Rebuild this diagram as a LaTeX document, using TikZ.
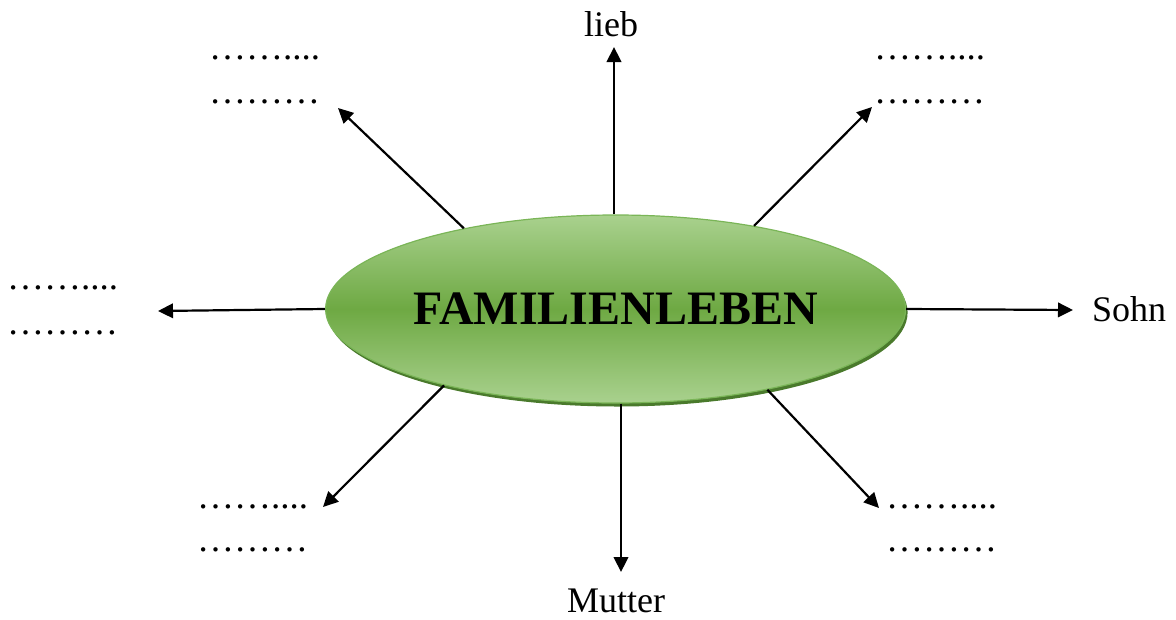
\documentclass[tikz,border=0pt]{standalone}
\usepackage{fontspec}
\setmainfont{Liberation Serif}
\usetikzlibrary{arrows.meta,shapes.geometric,shadows}
\definecolor{lg}{HTML}{A9D18E}
\definecolor{dg}{HTML}{6EA943}
\definecolor{bd}{HTML}{7AB557}
\definecolor{sd}{HTML}{4A7A2C}
\begin{document}
\begin{tikzpicture}[x=1pt,y=-1pt,
  arr/.style={line width=2.2pt,-{Triangle[length=15pt,width=14.5pt]}},
  word/.style={inner sep=0pt,anchor=base,font=\fontsize{36}{43}\selectfont},
  dotline/.style={inner sep=0pt,anchor=base west,font=\fontsize{37}{43}\selectfont},
  hub/.style={ellipse, draw=bd, line width=1.2pt, top color=lg, bottom color=lg, middle color=dg,
    minimum width=580pt, minimum height=188pt, inner sep=0pt,
    drop shadow={shadow xshift=2pt,shadow yshift=-3.5pt,fill=sd,opacity=1},
    font=\fontsize{48}{50}\selectfont\bfseries}]
\useasboundingbox (0,0) rectangle (1176,619);
\node[hub] (c) at (615.6,309) {FAMILIENLEBEN};

% arrow tips
\coordinate (tu) at (614,47);
\coordinate (tur) at (872,107);
\coordinate (tul) at (338,108);
\coordinate (tl) at (158,311);
\coordinate (tr) at (1073,310);
\coordinate (tll) at (323,507);
\coordinate (td) at (621,572);
\coordinate (tlr) at (879,508);

\draw[arr] (tu |- c.north) -- (tu);
\draw[arr] (c.31.7) -- (tur);
\draw[arr] (c.152.7) -- (tul);
\draw[arr] (c.west) -- (tl);
\draw[arr] (c.east) -- (tr);
\draw[arr] (c.204.9) -- (tll);
\draw[arr] (td |- c.south) -- (td);
\draw[arr] (c.-28.8) -- (tlr);

% labels
\node[word] (lieb) at (611,36) {lieb};
\node[word,anchor=base west] (sohn) at (1092,321) {Sohn};
\node[word] (mutter) at (616,612) {Mutter};

\node[dotline] (ula) at (209,59) {……....};
\node[dotline] (ulb) at (209,103) {………};
\node[dotline] (ura) at (874,59) {……....};
\node[dotline] (urb) at (874,103) {………};
\node[dotline] (la) at (7,289.5) {……....};
\node[dotline] (lb) at (7,334) {………};
\node[dotline] (lla) at (197,508) {……....};
\node[dotline] (llb) at (197,551) {………};
\node[dotline] (lra) at (886,508) {……....};
\node[dotline] (lrb) at (886,551) {………};
\end{tikzpicture}
\end{document}
